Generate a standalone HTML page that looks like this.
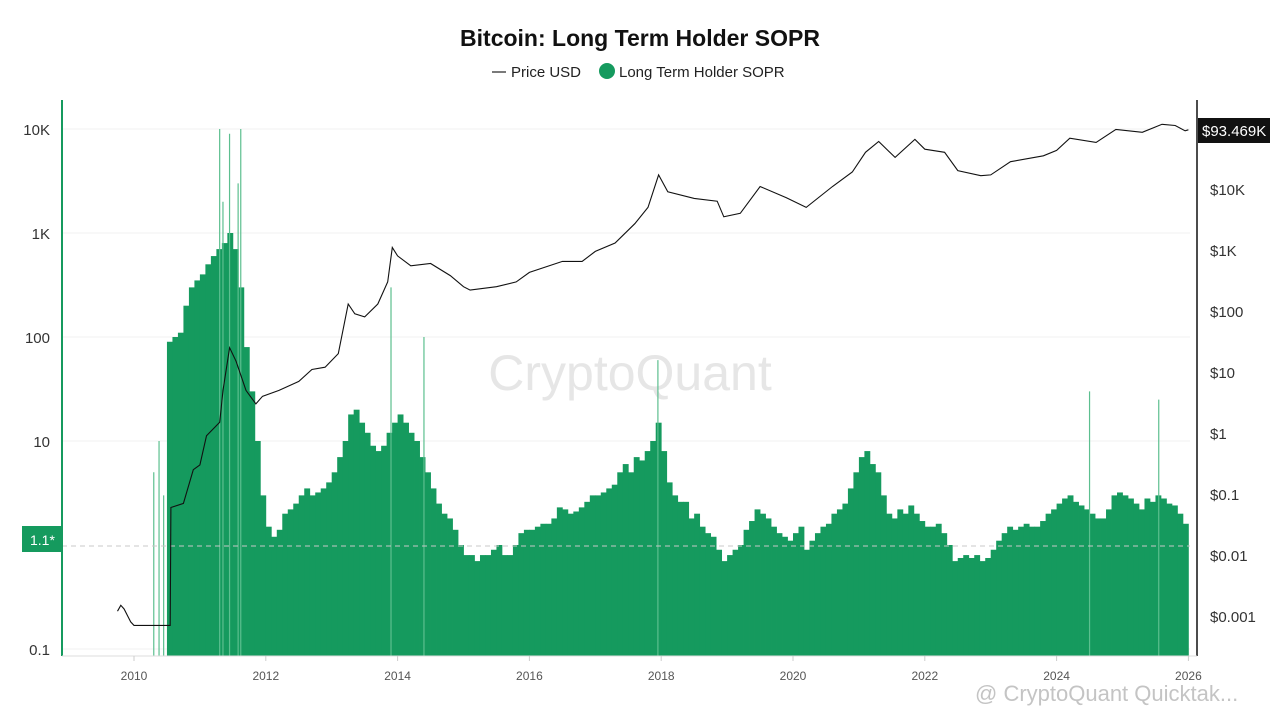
<!DOCTYPE html>
<html><head><meta charset="utf-8">
<style>
body{margin:0;background:#fff;font-family:"Liberation Sans",sans-serif;}
#wrap{position:relative;width:1280px;height:720px;overflow:hidden;}
</style></head>
<body>
<div id="wrap">
<svg id="chart" width="1280" height="720" xmlns="http://www.w3.org/2000/svg">
  <text x="640" y="46" text-anchor="middle" font-size="23" font-weight="bold" fill="#111">Bitcoin: Long Term Holder SOPR</text>
  <g>
    <g>
      <line x1="492" y1="72" x2="506" y2="72" stroke="#222" stroke-width="1.2"/>
      <text x="511" y="77" font-size="15" fill="#222">Price USD</text>
    </g>
    <g>
      <circle cx="607" cy="71" r="8" fill="#159a5e"/>
      <text x="619" y="77" font-size="15" fill="#222">Long Term Holder SOPR</text>
    </g>
  </g>
  <text x="630" y="390" text-anchor="middle" font-size="50" fill="#e6e6e6">CryptoQuant</text>
  <g id="grid"></g>
  <g id="bars"></g>
  <g id="spikes"></g>
  <line x1="62" y1="546" x2="1190" y2="546" stroke="#c8c8c8" stroke-dasharray="5,4" stroke-width="1"/>
  <path id="price" fill="none" stroke="#111" stroke-width="1.1"/>
  <line x1="62" y1="100" x2="62" y2="656" stroke="#159a5e" stroke-width="2"/>
  <line x1="1197" y1="100" x2="1197" y2="656" stroke="#111" stroke-width="1.5"/>
  <line x1="62" y1="656" x2="1197" y2="656" stroke="#ddd" stroke-width="1"/>
  <g id="leftTicks"></g>
  <g id="rightTicks"></g>
  <g id="xTicks"></g>
  <g>
    <rect x="22" y="526" width="40" height="26" fill="#159a5e"/>
    <text x="30" y="545" font-size="14" fill="#fff">1.1*</text>
  </g>
  <g>
    <rect x="1198" y="118" width="72" height="25" fill="#111"/>
    <text x="1202" y="136" font-size="15" fill="#fff">$93.469K</text>
  </g>
  <text x="975" y="701" font-size="22" fill="#c4c4c4">@ CryptoQuant Quicktak...</text>
</svg>
</div>
<script>
const NS="http://www.w3.org/2000/svg";
// ---- data ----
const soprStartYear = 2010.5; // monthly from Jul 2010
const soprValues = [
 90,100,110,200,300,350,
 400,500,600,700,800,1000,700,300,80,30,10,3,
 1.5,1.2,1.4,2.0,2.2,2.5,3,3.5,3,3.2,3.5,4,
 5,7,10,18,20,15,12,9,8,9,12,15,
 18,15,12,10,7,5,3.5,2.5,2,1.8,1.4,1.0,
 0.8,0.8,0.7,0.8,0.8,0.9,1.0,0.8,0.8,1.0,1.3,1.4,
 1.4,1.5,1.6,1.6,1.8,2.3,2.2,2.0,2.1,2.3,2.6,3.0,
 3,3.2,3.5,3.8,5,6,5,7,6.5,8,10,15,
 8,4,3,2.6,2.6,1.8,2,1.5,1.3,1.2,0.9,0.7,
 0.8,0.9,1.0,1.4,1.7,2.2,2.0,1.8,1.5,1.3,1.2,1.1,
 1.3,1.5,0.9,1.1,1.3,1.5,1.6,2.0,2.2,2.5,3.5,5,
 7,8,6,5,3,2,1.8,2.2,2.0,2.4,2.0,1.7,
 1.5,1.5,1.6,1.3,1.0,0.7,0.75,0.8,0.75,0.8,0.7,0.75,
 0.9,1.1,1.3,1.5,1.4,1.5,1.6,1.5,1.5,1.7,2.0,2.2,
 2.5,2.8,3,2.6,2.4,2.2,2.0,1.8,1.8,2.2,3,3.2,
 3,2.8,2.5,2.2,2.8,2.6,3,2.8,2.5,2.4,2.0,1.6
];
const spikeDates  = [2010.3,2010.38,2010.45,2011.3,2011.35,2011.45,2011.58,2011.62,2013.9,2014.4,2017.95,2024.5,2025.55];
const spikeValues = [5,10,3,10000,2000,9000,3000,10000,300,100,60,30,25];
const priceDates  = [2009.75,2009.8,2009.85,2009.95,2010.0,2010.55,2010.56,2010.75,2010.9,2011.0,2011.1,2011.3,2011.35,2011.45,2011.55,2011.7,2011.85,2011.95,2012.2,2012.5,2012.7,2012.9,2013.1,2013.25,2013.35,2013.5,2013.7,2013.85,2013.92,2014.0,2014.2,2014.5,2014.8,2015.0,2015.1,2015.5,2015.8,2016.0,2016.5,2016.8,2017.0,2017.3,2017.6,2017.8,2017.96,2018.1,2018.5,2018.85,2018.95,2019.2,2019.5,2019.9,2020.2,2020.6,2020.9,2021.1,2021.3,2021.55,2021.85,2022.0,2022.3,2022.5,2022.85,2023.0,2023.3,2023.8,2024.0,2024.2,2024.6,2024.9,2025.3,2025.6,2025.8,2025.95,2026.0];
const priceValues = [0.0012,0.0015,0.0013,0.0008,0.0007,0.0007,0.06,0.07,0.25,0.3,0.9,1.5,5,25,15,5,3,4,5,7,11,12,20,130,90,80,130,300,1100,800,550,600,380,250,220,250,300,430,650,650,950,1300,2700,5000,17000,9000,7000,6300,3500,4000,11000,7200,5000,11000,19000,40000,60000,33000,65000,45000,40000,20000,16500,17000,28000,35000,43000,68000,58000,95000,85000,115000,110000,90000,93469];
const leftTicks = [10000,1000,100,10,0.1];
const leftTickLabels = ["10K","1K","100","10","0.1"];
const rightTicks = [10000,1000,100,10,1,0.1,0.01,0.001];
const rightTickLabels = ["$10K","$1K","$100","$10","$1","$0.1","$0.01","$0.001"];
const xTickYears = [2010,2012,2014,2016,2018,2020,2022,2024,2026];

// ---- scales ----
const X = yr => 134 + (yr-2010)*65.9;
const YL = v => 545 - Math.log10(v)*104;
const YR = v => 189 - (Math.log10(v)-4)*61;
const BOTTOM = 656;

const bars=document.getElementById('bars');
const mw=65.9/12;
soprValues.forEach((v,i)=>{
  const x=X(soprStartYear+i/12);
  const r=document.createElementNS(NS,'rect');
  const y=Math.max(YL(v),100);
  r.setAttribute('x',x.toFixed(2));r.setAttribute('y',y.toFixed(2));
  r.setAttribute('width',(mw+0.4).toFixed(2));r.setAttribute('height',(BOTTOM-y).toFixed(2));
  r.setAttribute('fill','#159a5e');
  
  
  bars.appendChild(r);
});
const sp=document.getElementById('spikes');
spikeDates.forEach((d,i)=>{
  const l=document.createElementNS(NS,'line');
  const x=X(d);
  l.setAttribute('x1',x);l.setAttribute('x2',x);
  l.setAttribute('y1',YL(spikeValues[i]));l.setAttribute('y2',BOTTOM);
  l.setAttribute('stroke','#5cbf8f');l.setAttribute('stroke-width','1.2');
  
  
  sp.appendChild(l);
});
let d='';
priceDates.forEach((t,i)=>{d+=(i?'L':'M')+X(t).toFixed(1)+','+YR(priceValues[i]).toFixed(1);});
document.getElementById('price').setAttribute('d',d);

const grid=document.getElementById('grid'), lt=document.getElementById('leftTicks');
leftTicks.forEach((v,i)=>{
  const y=YL(v);
  const g=document.createElementNS(NS,'line');
  g.setAttribute('x1',62);g.setAttribute('x2',1190);g.setAttribute('y1',y);g.setAttribute('y2',y);
  g.setAttribute('stroke','#f2f2f2');
  
  
  grid.appendChild(g);
  const t=document.createElementNS(NS,'text');
  t.setAttribute('x',50);t.setAttribute('y',y+6);t.setAttribute('text-anchor','end');
  t.setAttribute('font-size','15');t.setAttribute('fill','#333');
  t.textContent=leftTickLabels[i];
  
  
  lt.appendChild(t);
});
const rt=document.getElementById('rightTicks');
rightTicks.forEach((v,i)=>{
  const t=document.createElementNS(NS,'text');
  t.setAttribute('x',1210);t.setAttribute('y',YR(v)+6);
  t.setAttribute('font-size','15');t.setAttribute('fill','#333');
  t.textContent=rightTickLabels[i];
  
  
  rt.appendChild(t);
});
const xt=document.getElementById('xTicks');
xTickYears.forEach(yr=>{
  const x=X(yr);
  const tk=document.createElementNS(NS,'line');
  tk.setAttribute('x1',x);tk.setAttribute('x2',x);tk.setAttribute('y1',656);tk.setAttribute('y2',661);
  tk.setAttribute('stroke','#ccc');
  
  
  xt.appendChild(tk);
  const t=document.createElementNS(NS,'text');
  t.setAttribute('x',x);t.setAttribute('y',680);t.setAttribute('text-anchor','middle');
  t.setAttribute('font-size','12');t.setAttribute('fill','#555');
  t.textContent=yr;
  
  
  xt.appendChild(t);
});
</script>
</body></html>
